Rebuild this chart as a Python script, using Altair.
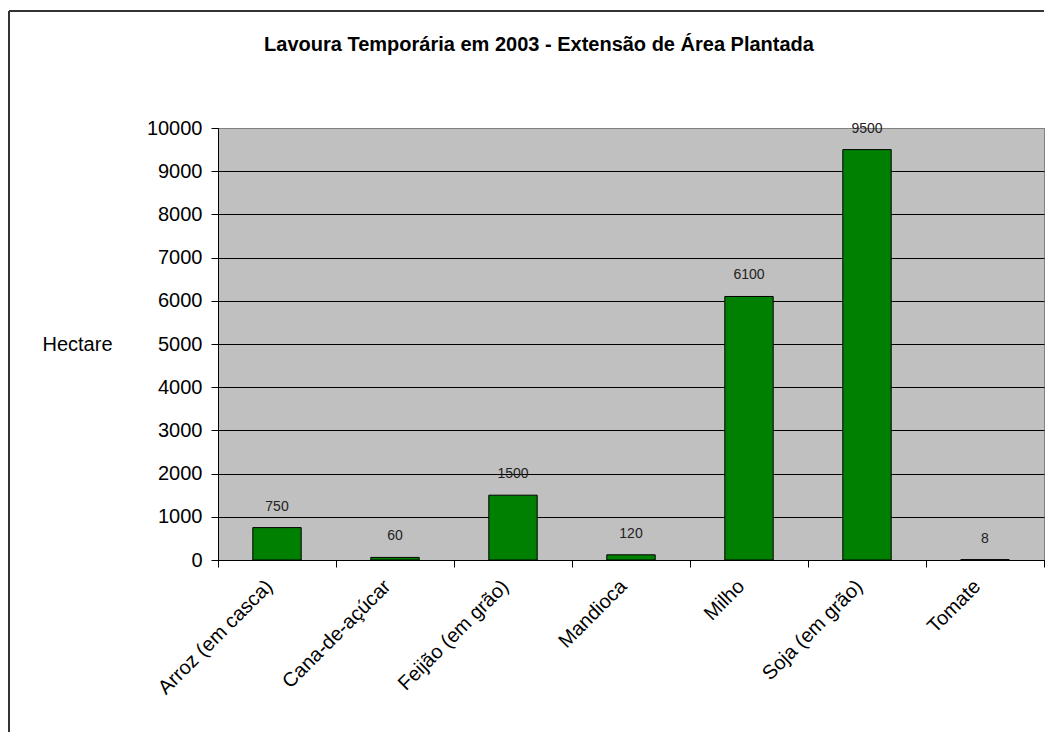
import altair as alt
import pandas as pd

categories = ["Arroz (em casca)", "Cana-de-açúcar", "Feijão (em grão)", "Mandioca",
              "Milho", "Soja (em grão)", "Tomate"]
hectares = [750, 60, 1500, 120, 6100, 9500, 8]
y_ticks = [0, 1000, 2000, 3000, 4000, 5000, 6000, 7000, 8000, 9000, 10000]
title_text = "Lavoura Temporária em 2003 - Extensão de Área Plantada"
y_title = "Hectare"

df = pd.DataFrame({"cultura": categories, "hectare": hectares})

W, H = 826, 432
FONT = "Liberation Sans"

x_enc = alt.X(
    "cultura:N", sort=categories,
    scale=alt.Scale(paddingInner=0, paddingOuter=0),
    axis=alt.Axis(title=None, labelAngle=-45, labelAlign="right", labelBaseline="middle",
                  labelFontSize=20, labelFont=FONT, labelColor="black", labelOffset=-8,
                  labelPadding=16, labelOverlap=False, tickBand="extent", tickSize=7,
                  tickColor="black", domainColor="black", grid=False),
)
y_enc = alt.Y(
    "hectare:Q",
    scale=alt.Scale(domain=[0, 10000], nice=False),
    axis=alt.Axis(values=y_ticks, format="d", title=y_title, titleAngle=0, titleX=-141,
                  titleY=216, titleAlign="center", titleBaseline="middle", titleFontSize=20,
                  titleFont=FONT, titleFontWeight="normal", titleColor="black",
                  labelFontSize=20, labelFont=FONT, labelColor="black", labelPadding=9,
                  tickSize=7, tickColor="black", domainColor="black",
                  gridColor=alt.condition("datum.value >= 10000", alt.value("#808080"), alt.value("black")),
                  gridWidth=1.2),
)

bars = alt.Chart(df).mark_bar(
    color="#008000", stroke="black", strokeWidth=1, width=alt.RelativeBandSize(0.41)
).encode(x=x_enc, y=y_enc)

labels = alt.Chart(df).mark_text(
    dy=-21, fontSize=14, font=FONT, color="#222222", baseline="middle"
).encode(x=x_enc, y=y_enc, text=alt.Text("hectare:Q", format="d"))

title = alt.Chart(alt.Data(values=[{"t": title_text}])).mark_text(
    fontSize=20, fontWeight="bold", font=FONT, align="center", baseline="middle", color="black"
).encode(x=alt.value(321), y=alt.value(-83), text="t:N")

left_border = alt.Chart(alt.Data(values=[{"a": 1}])).mark_rule(
    color="#333333", strokeWidth=2
).encode(x=alt.value(-209), y=alt.value(-117), y2=alt.value(604))

top_border = alt.Chart(alt.Data(values=[{"a": 1}])).mark_rule(
    color="#333333", strokeWidth=2
).encode(x=alt.value(-209), x2=alt.value(W), y=alt.value(-117))

chart = alt.layer(bars, labels, title, left_border, top_border).properties(
    width=W, height=H,
    padding={"left": 0, "top": 2, "right": 0, "bottom": 0},
    background="white",
).configure_view(fill="#C0C0C0", stroke="#808080", strokeWidth=1)

chart.save("out.html", embed_options={"renderer": "svg", "actions": False})
